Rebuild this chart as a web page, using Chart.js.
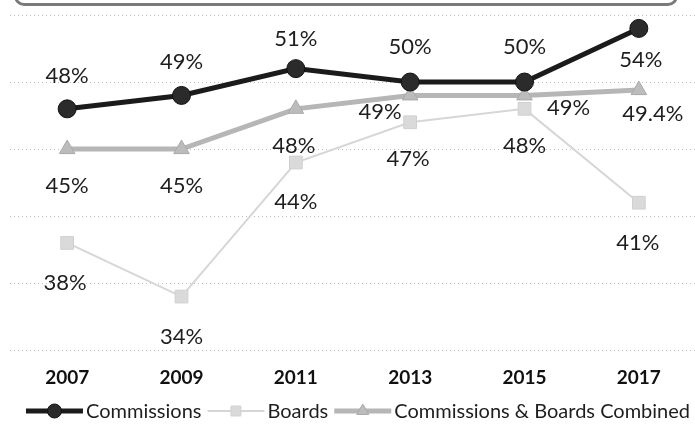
<!DOCTYPE html>
<html>
<head>
<meta charset="utf-8">
<script src="https://cdn.jsdelivr.net/npm/chart.js@4/dist/chart.umd.min.js"></script>
<style>
  body { margin: 0; background: #fff; }
  #wrap { position: relative; width: 695px; height: 429px; overflow: hidden; }
  #titleBox {
    position: absolute; left: 14px; top: -30px; width: 658px; height: 30px;
    border: 3px solid #7a7a7a; border-radius: 10px; background: #fff;
  }
  canvas { position: absolute; left: 0; top: 0; }
</style>
</head>
<body>
<div id="wrap">
  <canvas id="chart" width="706" height="429"></canvas>
  <div id="titleBox"></div>
</div>
<script>
var years = ['2007', '2009', '2011', '2013', '2015', '2017'];
var commissions = [48, 49, 51, 50, 50, 54];
var boards = [38, 34, 44, 47, 48, 41];
var combined = [45, 45, 48, 49, 49, 49.4];
var seriesNames = ['Commissions', 'Boards', 'Commissions & Boards Combined'];

// where each value label sits, relative to its point (dx, dy)
var labelOffsets = [
    [[0, -33], [0, -34], [0, -30], [0, -35], [0, -35], [2, 31]],
    [[-2, 40], [0, 40], [0, 39], [-2, 37], [0, 37], [-1, 40]],
    [[0, 37], [0, 37], [-2, 37], [-30, 16], [44, 12], [14, 24]]
];

var valueLabels = {
    id: 'valueLabels',
    afterDatasetsDraw: function (chart) {
        var ctx = chart.ctx;
        ctx.save();
        ctx.font = '22px Lato';
        ctx.fillStyle = '#1e1e1e';
        ctx.textAlign = 'center';
        ctx.textBaseline = 'middle';
        chart.data.datasets.forEach(function (ds, i) {
            var meta = chart.getDatasetMeta(i);
            meta.data.forEach(function (pt, j) {
                var off = labelOffsets[i][j];
                ctx.fillText(ds.data[j] + '%', pt.x + off[0], pt.y + off[1]);
            });
        });
        ctx.restore();
    }
};

// legend drawn by hand so each key shows a line with its marker
var lineLegend = {
    id: 'lineLegend',
    afterDraw: function (chart) {
        var ctx = chart.ctx;
        var y = 411;
        var sampleW = 57;
        ctx.save();
        ctx.font = '20px Lato';
        ctx.textBaseline = 'middle';
        var total = 0;
        chart.data.datasets.forEach(function (ds, i) {
            total += sampleW + 3 + ctx.measureText(ds.label).width + (i < 2 ? 6 : 0);
        });
        var x = 358 - total / 2;
        chart.data.datasets.forEach(function (ds, i) {
            ctx.strokeStyle = ds.borderColor;
            ctx.lineWidth = ds.borderWidth;
            ctx.beginPath();
            ctx.moveTo(x, y);
            ctx.lineTo(x + sampleW, y);
            ctx.stroke();
            ctx.fillStyle = ds.pointBackgroundColor;
            ctx.strokeStyle = ds.pointBorderColor;
            ctx.lineWidth = 1;
            Chart.helpers.drawPoint(ctx, {
                pointStyle: ds.pointStyle,
                radius: ds.pointRadius - 2,
                borderWidth: 1
            }, x + sampleW / 2, y);
            x += sampleW + 3;
            ctx.fillStyle = '#1e1e1e';
            ctx.fillText(ds.label, x, y + 1);
            x += ctx.measureText(ds.label).width + 6;
        });
        ctx.restore();
    }
};

new Chart(document.getElementById('chart').getContext('2d'), {
    type: 'line',
    data: {
        labels: years,
        datasets: [{
            label: seriesNames[0],
            data: commissions,
            borderColor: '#1b1b1b',
            borderWidth: 5,
            pointStyle: 'circle',
            pointRadius: 9,
            pointBackgroundColor: '#2b2b2b',
            pointBorderColor: '#111',
            pointBorderWidth: 1
        }, {
            label: seriesNames[1],
            data: boards,
            borderColor: '#d6d6d6',
            borderWidth: 2,
            pointStyle: 'rect',
            pointRadius: 9,
            pointBackgroundColor: '#dadada',
            pointBorderColor: '#d0d0d0',
            pointBorderWidth: 1
        }, {
            label: seriesNames[2],
            data: combined,
            borderColor: '#b6b6b6',
            borderWidth: 5,
            pointStyle: 'triangle',
            pointRadius: 9,
            pointBackgroundColor: '#bcbcbc',
            pointBorderColor: '#aaa',
            pointBorderWidth: 1
        }]
    },
    options: {
        responsive: false,
        animation: false,
        layout: { padding: { left: 10, right: 0, top: 15, bottom: 32 } },
        clip: false,
        plugins: {
            legend: { display: false },
            tooltip: { enabled: false }
        },
        scales: {
            x: {
                offset: true,
                grid: { display: false },
                border: { display: false },
                ticks: {
                    color: '#111',
                    font: { family: 'Lato', size: 19, weight: 'bold' },
                    padding: 8
                }
            },
            y: {
                min: 30,
                max: 55,
                ticks: { display: false, stepSize: 5 },
                border: { display: false, dash: [1, 3] },
                grid: { color: '#bdbdbd', lineWidth: 1, drawTicks: false },
                afterFit: function (axis) { axis.width = 0; }
            }
        }
    },
    plugins: [valueLabels, lineLegend]
});
</script>
</body>
</html>
